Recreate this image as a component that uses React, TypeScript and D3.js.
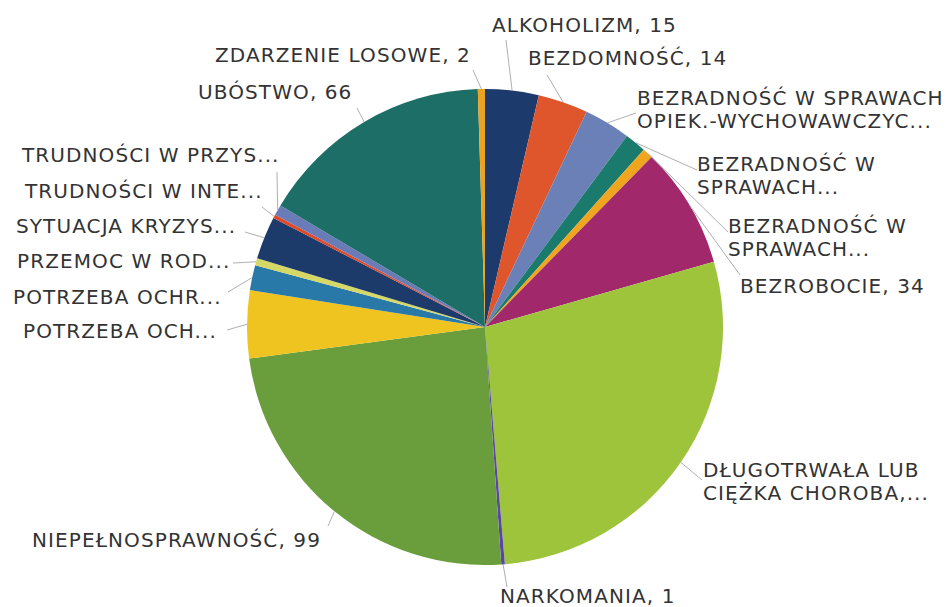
import React from "react";
import * as d3 from "d3";

const categories = [
  "ALKOHOLIZM, 15",
  "BEZDOMNOŚĆ, 14",
  "BEZRADNOŚĆ W SPRAWACH\nOPIEK.-WYCHOWAWCZYC...",
  "BEZRADNOŚĆ W\nSPRAWACH...",
  "BEZRADNOŚĆ W\nSPRAWACH...",
  "BEZROBOCIE, 34",
  "DŁUGOTRWAŁA LUB\nCIĘŻKA CHOROBA,...",
  "NARKOMANIA, 1",
  "NIEPEŁNOSPRAWNOŚĆ, 99",
  "POTRZEBA OCH...",
  "POTRZEBA OCHR...",
  "PRZEMOC W ROD...",
  "SYTUACJA KRYZYS...",
  "TRUDNOŚCI W INTE...",
  "TRUDNOŚCI W PRZYS...",
  "UBÓSTWO, 66",
  "ZDARZENIE LOSOWE, 2",
];

const values = [15, 14, 13, 6, 3, 34, 116, 1, 99, 19, 7, 2, 12, 1, 3, 66, 2];

const colors = [
  "#1d3a6c",
  "#e0562c",
  "#6c80b8",
  "#1a7a6c",
  "#efa61e",
  "#a1286a",
  "#9dc43a",
  "#5b45a6",
  "#6a9d3c",
  "#efc420",
  "#2878a8",
  "#d6d866",
  "#1c3a6a",
  "#e04a2c",
  "#6a7cb8",
  "#1d6e66",
  "#e9a222",
];

// label text anchor (left x, first baseline y) and leader end point
const labelPos: [number, number][] = [
  [492, 32], [528, 65], [637, 105], [697, 171], [728, 233], [740, 293],
  [703, 477], [500, 603], [32, 547], [23, 338], [13, 304], [17, 268],
  [16, 233], [25, 198], [22, 162], [198, 99], [215, 62],
];
const leaderEnd: [number, number][] = [
  [506, 40], [547, 75], [636, 113], [697, 170], [728, 232], [740, 275],
  [702, 480], [507, 587], [328, 526], [227, 330], [228, 292], [233, 263],
  [245, 232], [262, 207], [277, 172], [357, 108], [473, 70],
];

const W = 948;
const H = 607;
const cx = 485;
const cy = 327;
const R = 238;

export default function App() {
  const pie = d3.pie<number>().sort(null).value((d) => d);
  const arcs = pie(values);
  const arc = d3.arc<d3.PieArcDatum<number>>().innerRadius(0).outerRadius(R);
  const lineH = 23;
  return (
    <svg
      width={W}
      height={H}
      style={{ position: "absolute", left: 0, top: 0, background: "#fff" }}
      fontFamily="'DejaVu Sans', sans-serif"
    >
      <g transform={`translate(${cx},${cy})`}>
        {arcs.map((a, i) => (
          <path key={i} d={arc(a) || ""} fill={colors[i]} />
        ))}
      </g>
      {arcs.map((a, i) => {
        const mid = (a.startAngle + a.endAngle) / 2;
        const sx = cx + R * Math.sin(mid);
        const sy = cy - R * Math.cos(mid);
        const [ex, ey] = leaderEnd[i];
        return (
          <line key={"l" + i} x1={sx} y1={sy} x2={ex} y2={ey} stroke="#a6a6a6" strokeWidth={0.9} />
        );
      })}
      {categories.map((c, i) => {
        const [x, y] = labelPos[i];
        const lines = c.split("\n");
        return (
          <text key={"t" + i} x={x} y={y} fontSize={20} letterSpacing={1.1} fill="#333">
            {lines.map((ln, j) => (
              <tspan key={j} x={x} y={y + j * lineH}>
                {ln}
              </tspan>
            ))}
          </text>
        );
      })}
    </svg>
  );
}
